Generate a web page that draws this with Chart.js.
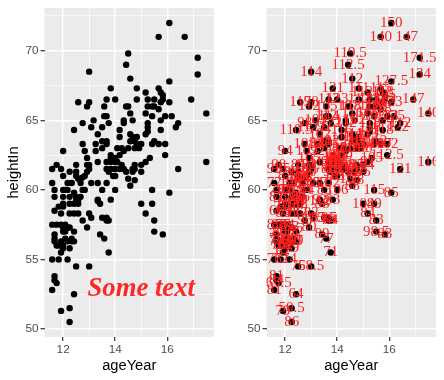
<!DOCTYPE html>
<html>
<head>
<meta charset="utf-8">
<script src="https://cdn.jsdelivr.net/npm/chart.js@4"></script>
<style>
  html, body { margin: 0; padding: 0; background: #fff; }
  canvas { position: absolute; top: 0; }
  #left { left: 0; }
  #right { left: 222px; }
</style>
</head>
<body>
<canvas id="left" width="222" height="380"></canvas>
<canvas id="right" width="222" height="380"></canvas>
<script>
// values, one row of the three arrays per point
const ageYear = [
  16.08,15.67,16.67,14.5,14.42,14.58,13,17.17,17.17,16.08,16.92,17.5,17.5,16.42,15.92,
  13.83,14.83,15.67,15.75,15.83,15.83,15.17,14.83,15.25,15.5,15.75,16.08,
  15.25,15.42,15.5,15.67,13.67,14,12.58,13,12.92,13.58,14.42,14.5,14.58,15.17,
  13.58,13.67,15.42,15.92,16.17,14.33,14.33,14.67,13.17,15.75,
  12.75,13.75,16.42,16.33,15.25,15.25,15.25,15.17,13.08,13.5,12.42,14.17,15.75,
  13.33,14.58,14.67,14.83,14.17,13.5,14.58,14.75,13.67,13.67,
  12.75,13.25,15,14.83,15.42,15.5,15.67,15.92,13.5,14.25,14.5,14.75,14.92,
  12,12.83,13.25,13.83,14.17,14,15.33,12.92,13.92,14,13.83,
  13.67,13.83,14,14.08,13.33,15.17,12.5,11.75,12.92,13,14.75,15,
  11.58,11.92,13,13.67,13.83,14,14.17,14.33,14.67,14.75,
  12.25,12.5,12.92,13.75,15,14.42,14.67,12,12.5,12.83,14,12.58,12.75,12.67,
  14.5,14.75,11.58,12.33,12.67,13.08,13.33,13.67,14.58,
  11.67,12,12.17,12.75,12.83,13.5,14,15.42,16.08,
  11.67,12,12.25,12.5,12.67,12.58,13.33,13.42,13.83,12,12.25,12.42,12.58,12.5,13.33,15,15.42,
  11.83,12,11.67,12.25,12.42,12.58,11.92,13,13.08,15.17,
  13.5,13.67,13.75,13.67,12.75,15.5,
  11.58,11.75,11.92,12.08,12.17,12.92,12,12.25,12.08,
  12.42,12,15.5,15.83,11.67,13.42,11.67,11.67,12.08,13.58,
  11.92,12.17,12.33,12.42,11.83,11.75,12,12.25,12,
  11.92,13.75,11.58,11.83,12.17,12.5,13,
  11.67,11.67,11.75,11.58,12.42,12.25,11.92,12.25,
  12.08,12.17,12.33,12.42,14.25,14.08,13.92,14.33
];
const heightIn = [
  72,71,71,69.8,69,68,68.5,69.5,68.3,67.8,66.5,65.5,62,61.5,62.5,
  67.3,67.3,67.3,67,66.8,66.5,67,66.5,66.5,66.5,66.3,66.3,
  66,66,66,65.8,66.5,66.5,66.3,66.3,66,66,66,66,65.5,65.5,
  65.3,65.3,65.3,65.3,65.3,65,64.8,65,65,65,
  64.8,64.8,64.8,64.5,64.8,64.5,64.2,64,64.5,64.5,64.3,64.3,64.3,
  64,64,63.8,63.8,63.8,63.5,63.5,63.5,63.5,63.3,
  63.3,63.3,63.3,63.3,63.3,63.5,63.3,63.3,63,63,63,63,63,
  62.8,62.8,62.8,62.5,62.5,62.3,62.3,62.3,62.3,62.2,62.3,
  62,62,62,62,62,62,61.8,61.8,61.8,61.8,61.8,61.8,
  61.5,61.5,61.5,61.5,61.5,61.5,61.5,61.5,61.5,61.5,
  61.3,61.3,61.3,61.3,61.3,61.3,61.3,61,61,61,61,60.8,60.9,60.8,
  60.8,60.7,60.5,60.5,60.5,60.5,60.5,60.5,60.3,
  60,60,60,60,60,60,60,60,59.8,
  59.5,59.5,59.5,59.5,59.5,59.3,59.3,59,59.3,59,59,59,59,59.2,59.2,59,59,
  58.8,58.8,58.5,58.3,58.3,58.3,58.3,58.3,58,58.3,
  58,58,57.8,57.8,57.8,57.8,
  57.5,57.5,57.5,57.5,57.3,57.3,57.3,57.3,57,
  57,57,57,56.8,56.8,56.8,56.5,56.3,56.5,56.5,
  56.3,56.3,56.3,56.3,56,56,56,55.8,55.8,
  55.5,55.5,55,55,55,54.5,54.5,
  53.8,53.5,53.3,52.8,52.5,51.5,51.3,50.5,
  60,60.5,56.5,59.8,61.8,63,61,62.8
];
const weightLb = [
  150,140,147,119.5,112.5,112,114,171.5,134,127.5,147,140,116,121,112.5,
  121,111,115,118,125,133,112.5,112,123,122,117,123,
  112,130,128,118,112,123,117,98,112,105,107,118,116,105,
  112,114,107,123,125,115,112,102,103,124,
  98,122,112,122,118,116,121,115,112.5,92,110.5,116,118,
  102,111,105,107,113,98,113,111,112,105,
  108,88,114,95,101,112,107,102,95,105,112,106,108,
  94,102,92,98,100,95,105,105,100,102,
  90,96,95,105,94.5,113,91,85,98,89,103.5,95,
  104,93,85,95,88,97,103,95,112,102,
  115,99,87,90,93,95,112,76,83,89,92,85,80,95,
  94,105,98,77,90,84,85,87,102,
  88,79,87,87,84,84,85,106,115,
  85,81,78.5,93,86,86,90,92,88,83,91,93,90,88,94,112,104,
  89,77,85,66,93,86,77,84,82,105,
  84,83.5,85,84,78,95,
  83,85,83,77,84,75,80,75,83,
  80,72,86.5,98.5,83,75,89,78,77,84,
  77,73,82,93,69,85,76,82,79,
  73,67,71,76,72,74,75,
  68.5,81,84,63.5,81,64,50.5,79,
  86,78,69,80,97,108,88,101
];

const someText = "Some text";
const someTextAge = 15;
const someTextHeight = 52.9;

const ageTicks = [12, 14, 16];
const heightTicks = [50, 55, 60, 65, 70];

// panel background goes under the grid
const panelBg = {
  id: "panelBg",
  beforeDraw(chart) {
    const a = chart.chartArea;
    chart.ctx.fillStyle = "#ebebeb";
    chart.ctx.fillRect(a.left, a.top, a.right - a.left, a.bottom - a.top);
  }
};

const someTextLabel = {
  id: "someTextLabel",
  afterDatasetsDraw(chart) {
    const ctx = chart.ctx;
    ctx.save();
    ctx.font = "italic bold 26.7px 'Liberation Serif'";
    ctx.fillStyle = "#ff2828";
    ctx.textAlign = "center";
    ctx.textBaseline = "middle";
    ctx.fillText(someText, chart.scales.x.getPixelForValue(someTextAge), chart.scales.y.getPixelForValue(someTextHeight));
    ctx.restore();
  }
};

const weightLabels = {
  id: "weightLabels",
  afterDatasetsDraw(chart) {
    const ctx = chart.ctx, a = chart.chartArea;
    ctx.save();
    ctx.beginPath();
    ctx.rect(a.left, a.top, a.right - a.left, a.bottom - a.top);
    ctx.clip();
    ctx.font = "15px 'Liberation Serif'";
    ctx.fillStyle = "#ff2020";
    ctx.textAlign = "center";
    ctx.textBaseline = "middle";
    weightLb.forEach((w, i) => {
      ctx.fillText(String(w), chart.scales.x.getPixelForValue(ageYear[i]), chart.scales.y.getPixelForValue(heightIn[i]));
    });
    ctx.restore();
  }
};

// no extra room for half tick labels, the panel keeps its exact place
function noMargins(s) {
  s.paddingTop = s.paddingBottom = s.paddingLeft = s.paddingRight = 0;
}

function makePanel(id, overlay) {
  const points = ageYear.map((a, i) => ({ x: a, y: heightIn[i] }));
  return new Chart(document.getElementById(id), {
    type: "scatter",
    data: { datasets: [{ data: points, backgroundColor: "#000", borderWidth: 0, pointRadius: 3.2, pointHoverRadius: 3.2 }] },
    options: {
      responsive: false,
      animation: false,
      layout: { padding: { top: 8, right: 8, left: 0, bottom: 0 } },
      plugins: { legend: { display: false }, tooltip: { enabled: false } },
      scales: {
        x: {
          type: "linear",
          min: 11.284,
          max: 17.796,
          afterFit(s) { s.height = 43; noMargins(s); },
          title: { display: true, text: "ageYear", color: "#000", font: { family: "'Liberation Sans'", size: 14.67 }, padding: { top: 0, bottom: 5 } },
          border: { display: false },
          grid: {
            color: "#fff",
            lineWidth: c => ageTicks.includes(c.tick.value) ? 1.4 : 0.7,
            tickColor: c => ageTicks.includes(c.tick.value) ? "#333" : "rgba(0,0,0,0)",
            tickLength: 4,
            tickWidth: 1.2
          },
          ticks: {
            stepSize: 1,
            includeBounds: false,
            autoSkip: false,
            maxRotation: 0,
            padding: 2,
            color: "#4d4d4d",
            font: { family: "'Liberation Sans'", size: 11.73 },
            callback: v => ageTicks.includes(v) ? String(v) : ""
          }
        },
        y: {
          type: "linear",
          min: 49.425,
          max: 73.075,
          afterFit(s) { s.width = 44.5; noMargins(s); },
          title: { display: true, text: "heightIn", color: "#000", font: { family: "'Liberation Sans'", size: 14.67 }, padding: { top: 5, bottom: 0 } },
          border: { display: false },
          grid: {
            color: "#fff",
            lineWidth: c => heightTicks.includes(c.tick.value) ? 1.4 : 0.7,
            tickColor: c => heightTicks.includes(c.tick.value) ? "#333" : "rgba(0,0,0,0)",
            tickLength: 4,
            tickWidth: 1.2
          },
          ticks: {
            stepSize: 2.5,
            includeBounds: false,
            autoSkip: false,
            padding: 2,
            color: "#4d4d4d",
            font: { family: "'Liberation Sans'", size: 11.73 },
            callback: v => heightTicks.includes(v) ? String(v) : ""
          }
        }
      }
    },
    plugins: [panelBg, overlay]
  });
}

makePanel("left", someTextLabel);
makePanel("right", weightLabels);
</script>
</body>
</html>
